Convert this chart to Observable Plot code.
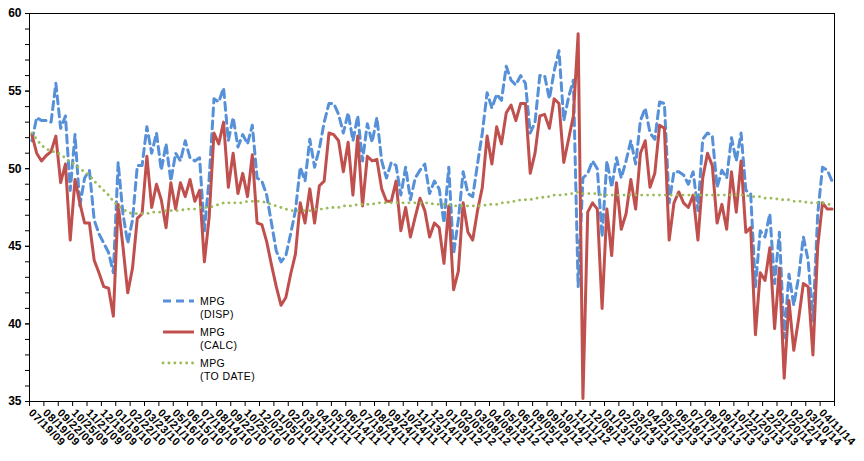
<!DOCTYPE html>
<html><head><meta charset="utf-8">
<script src="https://cdn.jsdelivr.net/npm/d3@7"></script>
<script src="https://cdn.jsdelivr.net/npm/@observablehq/plot@0.6"></script>
<style>
body{margin:0;background:#fff;}
#wrap{position:relative;width:864px;height:461px;}
#legend{position:absolute;left:0;top:0;pointer-events:none;}
#legend text{font-family:"Liberation Sans",Arial,sans-serif;font-size:10.5px;fill:#000;letter-spacing:0.4px;}
.xlab text{letter-spacing:0.5px;}
</style></head><body><div id="wrap"></div>
<script>
const tickLabels = ["07/19/09","08/19/09","09/22/09","10/25/09","11/21/09","12/19/09","01/19/10","02/22/10","03/23/10","04/21/10",
"05/16/10","06/15/10","07/18/10","08/14/10","09/22/10","10/25/10","12/02/10","01/05/11","02/10/11","03/13/11",
"04/11/11","05/11/11","06/14/11","07/19/11","08/24/11","09/24/11","10/24/11","11/13/11","12/14/11","01/09/12",
"02/05/12","03/08/12","04/08/12","05/13/12","06/17/12","08/05/12","09/09/12","10/14/12","11/11/12","12/08/12",
"01/13/13","02/20/13","03/24/13","04/21/13","05/22/13","06/18/13","07/17/13","08/16/13","09/17/13","10/22/13",
"11/20/13","12/21/13","01/20/14","02/12/14","03/10/14","04/11/14"];

const disp = [51.8,53.3,53.1,53.1,53.0,55.5,52.6,53.4,48.6,52.2,
47.6,49.4,49.9,46.7,45.8,45.2,44.6,43.3,50.4,47.1,
45.2,46.7,50.2,50.2,52.7,51.0,52.3,49.9,51.6,49.2,
51.0,50.5,51.8,50.7,50.5,50.7,46.0,49.4,54.5,54.3,
55.2,51.8,53.3,51.4,52.2,51.6,52.8,49.4,49.2,48.3,
46.5,44.7,44.0,44.4,45.8,47.3,50.1,49.2,51.9,50.1,
51.3,53.0,54.2,54.2,53.5,52.3,53.6,51.8,53.4,50.5,
52.9,51.7,53.3,50.5,49.4,50.4,50.2,48.3,50.1,48.0,
49.4,49.9,50.3,48.4,49.2,48.7,46.5,50.1,44.5,46.7,
49.8,48.4,48.2,50.3,52.3,54.9,53.9,54.8,54.4,56.6,
55.7,55.4,56.0,55.5,52.3,53.0,56.0,56.0,54.5,56.3,
57.6,53.1,54.6,55.7,42.4,49.4,49.7,50.5,50.0,45.6,
50.5,48.8,50.7,49.4,50.5,51.8,50.3,53.1,53.9,52.3,
51.9,54.3,54.2,47.8,49.8,49.8,49.6,49.0,49.8,47.3,
51.9,52.3,52.1,48.8,49.9,49.4,52.0,50.5,52.3,48.6,
48.4,42.4,46.0,45.6,47.1,42.6,45.9,39.1,43.2,41.2,
43.0,45.6,44.1,40.2,47.1,50.1,49.9,49.2];

const calc = [52.2,51.0,50.5,50.85,51.1,52.1,49.1,50.3,45.4,49.3,
47.8,46.5,46.5,44.1,43.3,42.4,42.3,40.5,47.7,45.0,
42.0,43.6,46.8,47.1,50.8,47.5,49.0,48.0,46.2,49.1,
47.4,49.1,48.2,49.3,47.9,48.6,44.0,46.9,52.3,51.6,
53.0,48.8,51.0,48.4,49.7,48.2,50.9,46.5,46.4,45.3,
43.8,42.4,41.2,41.7,43.2,44.5,47.8,46.5,48.7,46.5,
48.9,49.2,52.3,52.2,51.8,49.8,51.7,48.3,52.1,47.6,
50.8,50.5,50.6,48.7,47.9,47.9,49.2,46.0,47.5,45.6,
46.9,48.1,47.3,45.6,46.5,46.2,43.9,47.6,42.2,43.4,
47.8,45.9,45.4,47.3,48.8,52.1,50.3,52.7,51.6,53.6,
54.1,53.1,54.2,54.2,49.7,51.0,53.4,53.5,52.6,54.5,
54.2,50.4,51.9,53.4,58.7,35.2,47.2,47.8,47.4,41.0,
47.4,44.4,49.1,46.1,47.1,49.3,47.4,51.0,51.8,48.8,
49.7,52.8,52.6,45.4,47.8,48.5,47.8,47.5,48.3,45.4,
49.4,51.0,50.2,46.5,47.7,46.1,49.8,47.2,50.5,45.9,
46.2,39.3,43.3,42.8,44.9,39.7,43.6,36.5,41.5,38.3,
40.3,42.6,42.4,38.0,45.0,47.8,47.4,47.4];

const toDate = [52.3,51.9,51.5,51.3,51.1,51.1,50.9,50.7,50.4,50.3,
50.0,49.8,49.6,49.2,48.9,48.6,48.3,47.9,47.6,47.4,
47.2,47.1,47.1,47.1,47.1,47.2,47.2,47.2,47.3,47.3,
47.3,47.3,47.4,47.4,47.4,47.5,47.5,47.5,47.6,47.7,
47.8,47.8,47.8,47.8,47.8,47.9,47.9,47.9,47.9,47.8,
47.7,47.6,47.5,47.4,47.3,47.3,47.3,47.3,47.3,47.4,
47.4,47.4,47.5,47.5,47.5,47.6,47.6,47.6,47.7,47.7,
47.7,47.7,47.8,47.8,47.8,47.8,47.8,47.8,47.8,47.8,
47.8,47.8,47.8,47.8,47.7,47.7,47.7,47.7,47.6,47.6,
47.6,47.6,47.6,47.6,47.6,47.7,47.7,47.7,47.8,47.8,
47.9,47.9,48.0,48.0,48.0,48.1,48.1,48.2,48.2,48.3,
48.3,48.3,48.4,48.4,48.5,48.4,48.4,48.4,48.4,48.3,
48.3,48.3,48.3,48.3,48.3,48.3,48.3,48.3,48.3,48.3,
48.3,48.3,48.3,48.3,48.3,48.3,48.3,48.3,48.3,48.3,
48.3,48.3,48.3,48.3,48.3,48.3,48.3,48.3,48.3,48.3,
48.2,48.2,48.2,48.1,48.1,48.1,48.0,48.0,48.0,47.9,
47.9,47.9,47.8,47.8,47.8,47.8,47.7,47.7];

const GROUP = 3;
const n = disp.length;
const rows = d3.range(n).map(i => ({i, disp: disp[i], calc: calc[i], toDate: toDate[i]}));
const labelIdx = tickLabels.map((_, k) => k * GROUP);
const bounds = d3.range(tickLabels.length + 1).map(k => k * GROUP - 0.5);

const FONT = '"Liberation Sans", Arial, sans-serif';
const chart = Plot.plot({
  width: 864, height: 461,
  marginLeft: 29, marginRight: 30, marginTop: 13, marginBottom: 60,
  x: {domain: [-0.5, n - 0.5]},
  y: {domain: [35, 60]},
  style: {fontFamily: FONT, fontSize: "11px", color: "#000", background: "#fff"},
  marks: [
    Plot.axisY({ticks: d3.range(35, 61, 1), tickSize: 4, tickFormat: () => "", label: null}),
    Plot.axisY({ticks: d3.range(35, 61, 5), tickSize: 4, tickPadding: 4, label: null, fontWeight: "bold", fontSize: 12}),
    Plot.axisX({ticks: bounds, tickSize: 5, tickFormat: () => "", label: null}),
    Plot.text(labelIdx, {x: d => d, text: (d, k) => tickLabels[k], frameAnchor: "bottom", rotate: 45,
      textAnchor: "start", dy: 12, dx: -4, fontWeight: "bold", fontSize: 11, className: "xlab"}),
    Plot.line(rows, {x: "i", y: "disp", stroke: "#5590D8", strokeWidth: 3, strokeDasharray: "8,5"}),
    Plot.line(rows, {x: "i", y: "calc", stroke: "#C0504D", strokeWidth: 3}),
    Plot.line(rows, {x: "i", y: "toDate", stroke: "#9BBB59", strokeWidth: 2.8, strokeDasharray: "0.1,5.8", strokeLinecap: "round"}),
    Plot.frame({stroke: "#000"})
  ]
});
const wrap = document.getElementById("wrap");
wrap.appendChild(chart);

const legendItems = [
  {name: "(DISP)", color: "#5590D8", dash: "8,5", cap: "butt", w: 3},
  {name: "(CALC)", color: "#C0504D", dash: null, cap: "butt", w: 3},
  {name: "(TO DATE)", color: "#9BBB59", dash: "0.1,5.8", cap: "round", w: 2.8}
];
const ns = "http://www.w3.org/2000/svg";
const lg = document.createElementNS(ns, "svg");
lg.setAttribute("id", "legend");
lg.setAttribute("width", 864); lg.setAttribute("height", 461);
legendItems.forEach((it, k) => {
  const cy = 301 + k * 31;
  const ln = document.createElementNS(ns, "line");
  ln.setAttribute("x1", 163); ln.setAttribute("x2", 194);
  ln.setAttribute("y1", cy); ln.setAttribute("y2", cy);
  ln.setAttribute("stroke", it.color); ln.setAttribute("stroke-width", it.w);
  if (it.dash) ln.setAttribute("stroke-dasharray", it.dash);
  ln.setAttribute("stroke-linecap", it.cap);
  lg.appendChild(ln);
  const t1 = document.createElementNS(ns, "text");
  t1.setAttribute("x", 200); t1.setAttribute("y", cy + 4); t1.textContent = "MPG";
  lg.appendChild(t1);
  const t2 = document.createElementNS(ns, "text");
  t2.setAttribute("x", 200); t2.setAttribute("y", cy + 16.5); t2.textContent = it.name;
  lg.appendChild(t2);
});
wrap.appendChild(lg);
</script>
</body></html>
